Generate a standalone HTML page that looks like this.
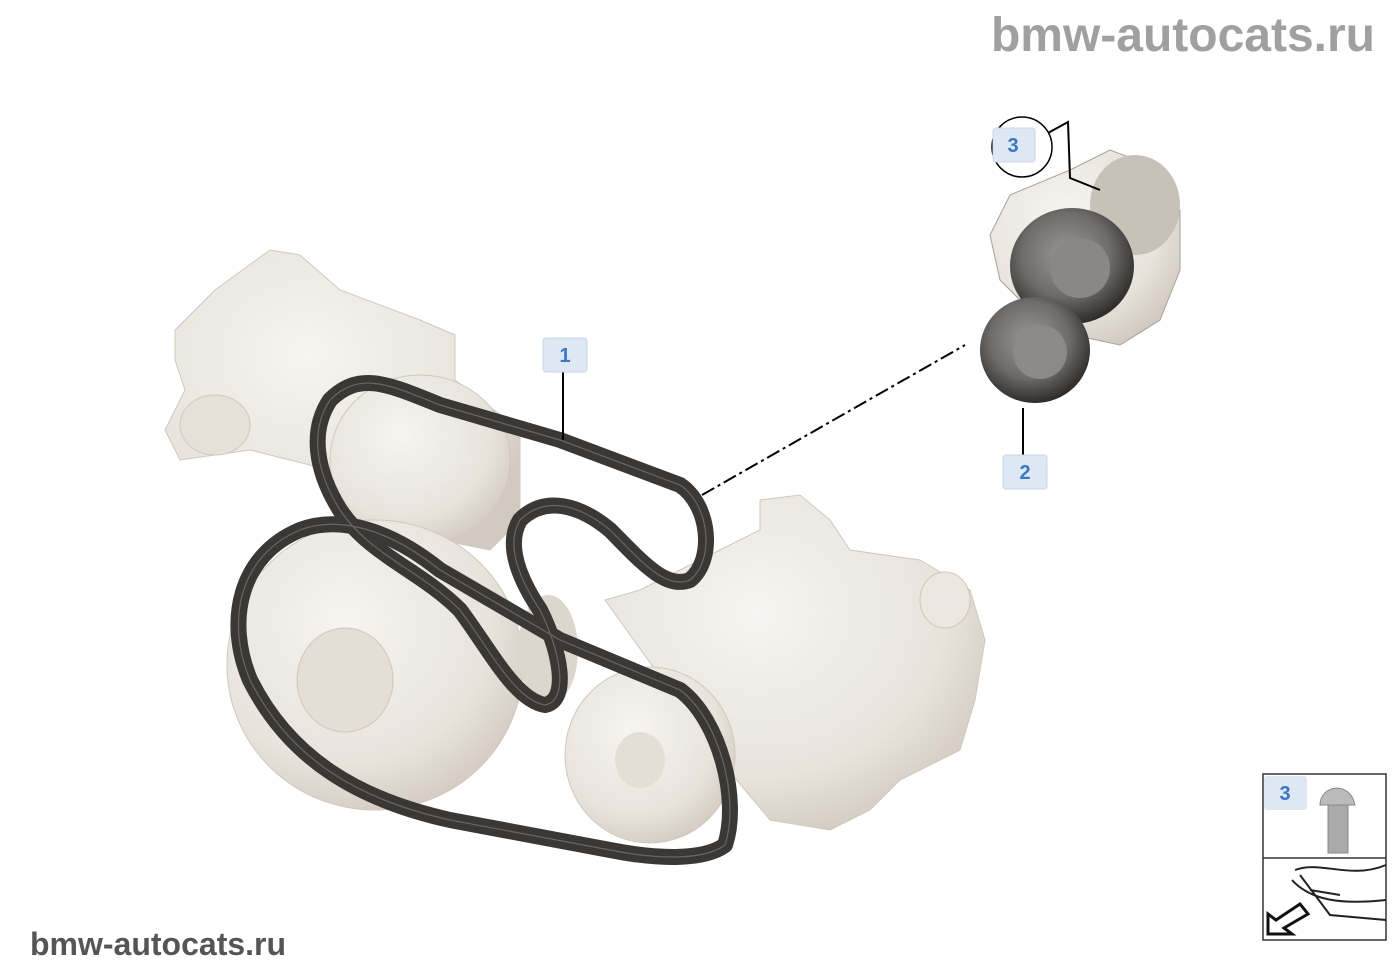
<!DOCTYPE html>
<html><head><meta charset="utf-8"><style>
html,body{margin:0;padding:0;background:#fff;}
svg{display:block}
.lbl{fill:#3a78c2;font:bold 20px "Liberation Sans",sans-serif;}
</style></head><body>
<svg width="1400" height="980" viewBox="0 0 1400 980" xmlns="http://www.w3.org/2000/svg">
<defs>
<radialGradient id="beige" cx="40%" cy="35%" r="70%"><stop offset="0" stop-color="#f7f5f1"/><stop offset="0.7" stop-color="#e8e3dc"/><stop offset="1" stop-color="#d2cac0"/></radialGradient>
<radialGradient id="grey" cx="45%" cy="40%" r="60%"><stop offset="0" stop-color="#9a9896"/><stop offset="0.6" stop-color="#6e6c6a"/><stop offset="1" stop-color="#2e2d2c"/></radialGradient>
</defs>
<text x="1375" y="51" text-anchor="end" fill="#a0a0a0" font-family="Liberation Sans,sans-serif" font-weight="bold" font-size="48">bmw-autocats.ru</text>
<text x="30" y="955" fill="#555" font-family="Liberation Sans,sans-serif" font-weight="bold" font-size="32">bmw-autocats.ru</text>

<!-- water pump -->
<path d="M175 330 L215 290 L270 250 L300 255 L340 290 L420 320 L455 335 L455 380 L520 430 L520 520 L490 550 L440 540 L400 500 L330 470 L250 450 L180 460 L165 430 L185 390 L175 360 Z" fill="url(#beige)" stroke="#d0c8be"/>
<ellipse cx="215" cy="425" rx="35" ry="30" fill="#e6e0d8" stroke="#d0c8be"/>
<ellipse cx="420" cy="460" rx="90" ry="85" fill="url(#beige)" stroke="#d0c8be"/>
<!-- crank pulley -->
<ellipse cx="375" cy="665" rx="148" ry="145" fill="url(#beige)" stroke="#d0c8be"/>
<ellipse cx="345" cy="680" rx="48" ry="52" fill="#e4ded6" stroke="#cfc6bb"/>
<ellipse cx="548" cy="650" rx="30" ry="55" fill="#ddd6cc"/>
<!-- compressor -->
<path d="M605 600 L640 590 L700 560 L760 530 L760 500 L800 495 L830 520 L850 550 L920 560 L970 590 L985 640 L975 700 L960 750 L900 780 L870 810 L830 830 L770 820 L720 760 Z" fill="url(#beige)" stroke="#d0c8be"/>
<ellipse cx="945" cy="600" rx="25" ry="28" fill="#ece7e0" stroke="#cfc6bb"/>
<ellipse cx="650" cy="755" rx="85" ry="88" fill="url(#beige)" stroke="#d0c8be"/>
<ellipse cx="640" cy="760" rx="25" ry="28" fill="#e4ded6"/>
<!-- tensioner -->
<path d="M990 235 L1010 195 L1070 170 L1110 150 L1150 165 L1180 210 L1180 270 L1160 320 L1120 345 L1050 330 L1000 280 Z" fill="url(#beige)" stroke="#a8a097"/>
<ellipse cx="1135" cy="205" rx="45" ry="50" fill="#c8c1b8"/>
<ellipse cx="1072" cy="266" rx="62" ry="58" fill="url(#grey)"/>
<ellipse cx="1080" cy="268" rx="30" ry="30" fill="#8a8886"/>
<ellipse cx="1035" cy="350" rx="55" ry="53" fill="url(#grey)"/>
<ellipse cx="1040" cy="352" rx="27" ry="27" fill="#8c8a88"/>

<!-- belts -->
<g fill="none" stroke="#3a3735" stroke-width="16" stroke-linejoin="round">
<path d="M330 400 C360 370 390 385 440 405 L560 440 L680 485 C710 505 715 560 690 580 C665 590 640 560 610 530 C580 505 545 495 520 520 C505 545 520 580 540 610 C560 650 570 700 545 705 C515 700 490 650 460 610 C420 570 370 555 340 510 C315 470 310 430 330 400 Z"/>
<path d="M300 530 C340 515 390 530 440 570 L560 640 L680 690 C720 720 740 800 725 845 C705 860 660 860 610 850 L450 820 C360 800 290 760 250 680 C225 620 240 555 300 530 Z"/>
</g>
<g fill="none" stroke="#6a6663" stroke-width="1.2">
<path d="M330 400 C360 370 390 385 440 405 L560 440 L680 485 C710 505 715 560 690 580 C665 590 640 560 610 530 C580 505 545 495 520 520 C505 545 520 580 540 610 C560 650 570 700 545 705 C515 700 490 650 460 610 C420 570 370 555 340 510 C315 470 310 430 330 400 Z"/>
<path d="M300 530 C340 515 390 530 440 570 L560 640 L680 690 C720 720 740 800 725 845 C705 860 660 860 610 850 L450 820 C360 800 290 760 250 680 C225 620 240 555 300 530 Z"/>
</g>

<!-- leader lines -->
<line x1="563" y1="372" x2="563" y2="440" stroke="#000" stroke-width="2"/>
<line x1="1023" y1="408" x2="1023" y2="455" stroke="#000" stroke-width="2"/>
<line x1="702" y1="495" x2="965" y2="345" stroke="#000" stroke-width="2" stroke-dasharray="14,4,3,4"/>
<circle cx="1022" cy="147" r="30" fill="none" stroke="#000" stroke-width="1.5"/>
<polyline points="1048,133 1068,122 1070,178 1100,190" fill="none" stroke="#000" stroke-width="2"/>

<!-- labels -->
<rect x="543" y="338" width="44" height="34" rx="3" fill="#dde8f4" stroke="#c9d6e5"/>
<text class="lbl" x="565" y="362" text-anchor="middle">1</text>
<rect x="1003" y="455" width="44" height="34" rx="3" fill="#dde8f4" stroke="#c9d6e5"/>
<text class="lbl" x="1025" y="479" text-anchor="middle">2</text>
<rect x="993" y="128" width="42" height="34" rx="3" fill="#dde8f4" stroke="#c9d6e5"/>
<text class="lbl" x="1013" y="152" text-anchor="middle">3</text>

<!-- inset box -->
<rect x="1263" y="774" width="123" height="166" fill="#fff" stroke="#333" stroke-width="1.5"/>
<line x1="1263" y1="858" x2="1386" y2="858" stroke="#333" stroke-width="1.5"/>
<rect x="1264" y="776" width="43" height="34" rx="3" fill="#dde8f4"/>
<text class="lbl" x="1285" y="800" text-anchor="middle">3</text>
<path d="M1320 805 C1320 785 1350 780 1355 805 Z" fill="#bbb" stroke="#888"/>
<rect x="1328" y="805" width="20" height="48" fill="#aaa" stroke="#888"/>
<path d="M1295 870 C1320 860 1350 880 1386 865 M1292 880 C1310 900 1340 905 1386 900 M1310 890 L1340 895 M1300 875 L1330 915 L1386 920" fill="none" stroke="#222" stroke-width="2"/>
<path d="M1268 934 L1268 914 L1276 920 L1300 904 L1308 914 L1284 928 L1292 934 Z" fill="#fff" stroke="#111" stroke-width="3"/>
</svg>
</body></html>
